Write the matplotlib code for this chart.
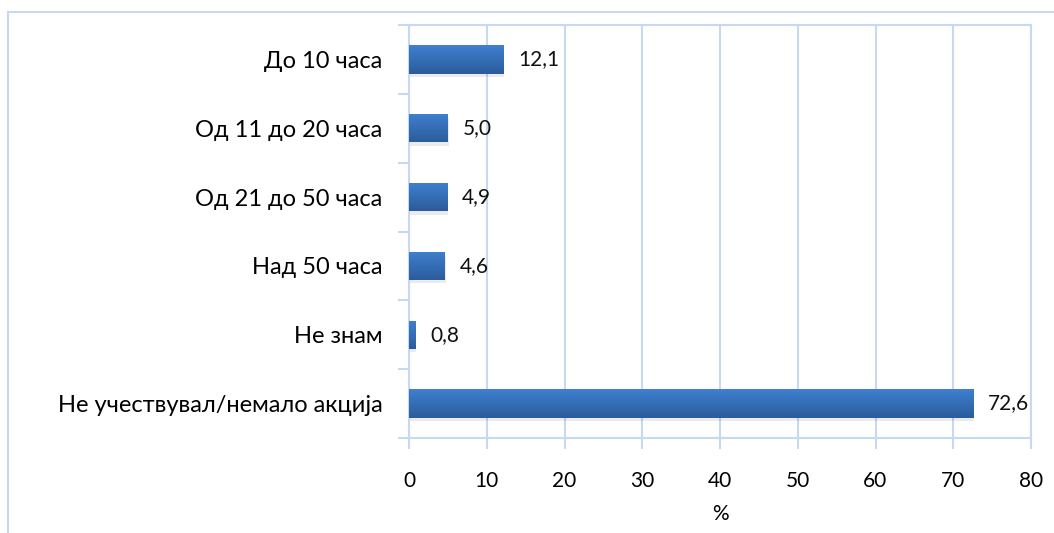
import numpy as np
import matplotlib
matplotlib.use("Agg")
import matplotlib.pyplot as plt
from matplotlib.colors import LinearSegmentedColormap
from matplotlib.patches import Rectangle

plt.rcParams["font.family"] = ["Lato", "Noto Sans", "DejaVu Sans"]

categories = ["До 10 часа", "Од 11 до 20 часа", "Од 21 до 50 часа",
              "Над 50 часа", "Не знам", "Не учествувал/немало акција"]
values = [12.1, 5.0, 4.9, 4.6, 0.8, 72.6]
value_labels = ["12,1", "5,0", "4,9", "4,6", "0,8", "72,6"]
x_ticks = [0, 10, 20, 30, 40, 50, 60, 70, 80]

grid_color = "#c6d9f1"
bar_cmap = LinearSegmentedColormap.from_list("bar", ["#3f80d0", "#2b5c9b"])

fig = plt.figure(figsize=(10.54, 5.33), dpi=100)

# outer chart frame (only left and top edge visible)
fig.add_artist(plt.Line2D([8 / 1054, 8 / 1054], [0, 1 - 12 / 533],
                          transform=fig.transFigure, color=grid_color, lw=1.5))
fig.add_artist(plt.Line2D([8 / 1054, 1], [1 - 12 / 533, 1 - 12 / 533],
                          transform=fig.transFigure, color=grid_color, lw=1.5))

ax = fig.add_axes([409 / 1054, 1 - 438 / 533, (1031 - 409) / 1054, (438 - 25) / 533])

n = len(categories)
y = np.arange(n)
bar_h = 0.41
ax.set_xlim(0, 80)
ax.set_ylim(n - 0.5, -0.5)

gradient = np.linspace(0, 1, 64).reshape(-1, 1)
for yi, v in zip(y, values):
    # soft shadow under the bar
    ax.add_patch(Rectangle((0.1, yi - bar_h / 2 + 0.05), v, bar_h,
                           facecolor="#000000", alpha=0.08, lw=0, zorder=2))
    bar = Rectangle((0, yi - bar_h / 2), v, bar_h, facecolor="none", lw=0, zorder=3)
    ax.add_patch(bar)
    im = ax.imshow(gradient, cmap=bar_cmap, aspect="auto", zorder=3,
                   extent=(0, v, yi + bar_h / 2, yi - bar_h / 2))
    im.set_clip_path(bar)

for yi, v, lab in zip(y, values, value_labels):
    ax.text(v + 1.9, yi, lab, va="center", ha="left", fontsize=15, color="#111111")

ax.set_xticks(x_ticks)
ax.set_xticklabels([str(t) for t in x_ticks], fontsize=15)
ax.set_yticks(y)
ax.set_yticklabels(categories, fontsize=17)
ax.set_yticks(np.arange(n + 1) - 0.5, minor=True)
ax.tick_params(axis="y", which="major", length=0, pad=19)
ax.tick_params(axis="y", which="minor", length=8, color=grid_color, width=1.5)
ax.tick_params(axis="x", length=8, color=grid_color, width=1.5, pad=16)

ax.xaxis.grid(True, color=grid_color, lw=1.5)
ax.set_axisbelow(True)
for s in ax.spines.values():
    s.set_color(grid_color)
    s.set_linewidth(1.5)

ax.set_xlabel("%", fontsize=15, labelpad=9)

plt.savefig("out.png", dpi=100)
